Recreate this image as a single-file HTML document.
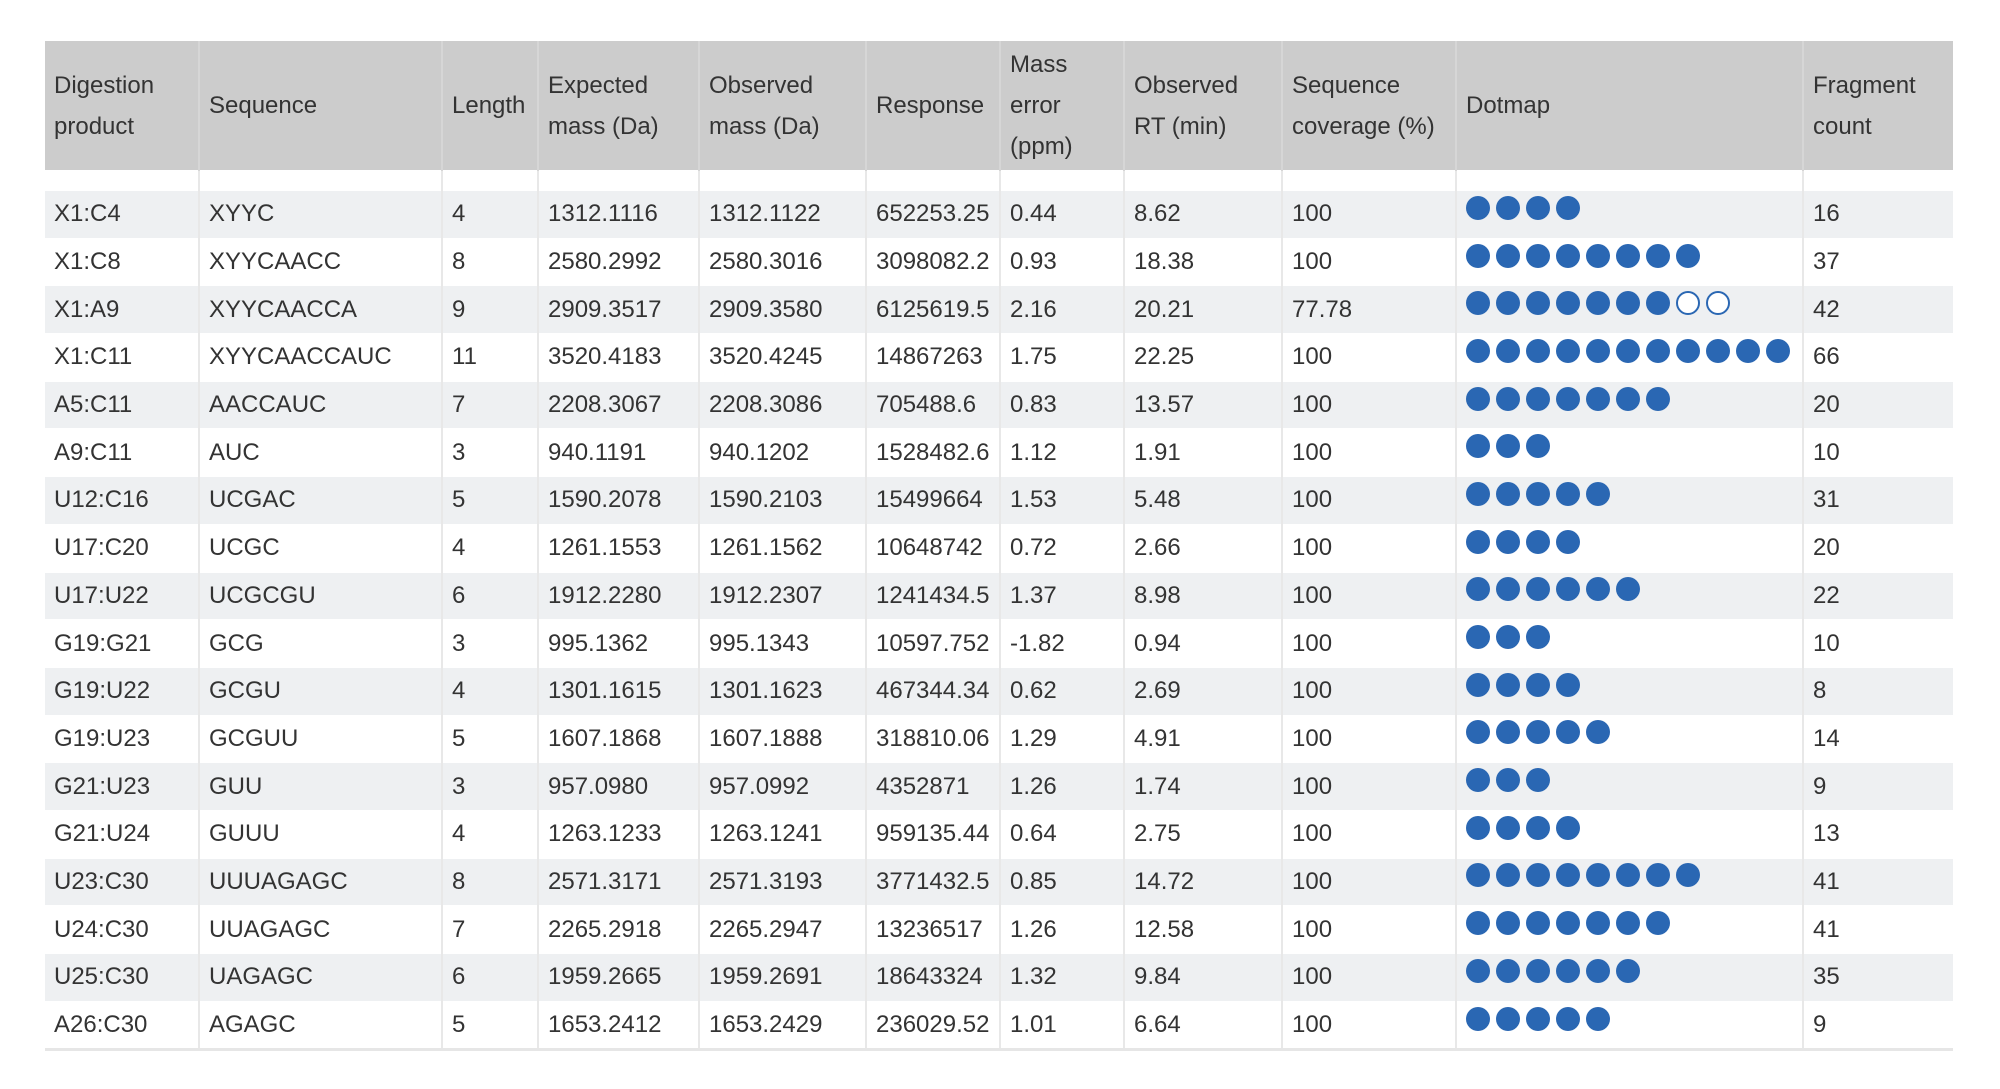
<!DOCTYPE html>
<html><head><meta charset="utf-8"><style>
body{margin:0;background:#fff;width:2000px;height:1089px;overflow:hidden;font-family:"Liberation Sans",sans-serif;color:#333;}
table{position:absolute;left:45px;top:41px;width:1908px;border-collapse:collapse;table-layout:fixed;font-size:24px;}
th{background:#cccccc;font-weight:normal;text-align:left;vertical-align:middle;padding:0 0 0 9px;height:129px;line-height:41px;border-left:2px solid #d6d6d6;color:#333;}
th:first-child{border-left:none}
td{padding:0 0 0 9px;height:46.7px;border-left:2px solid #e8e8e8;border-top:1px solid #fff;white-space:nowrap;}
td:first-child{border-left:none}
tr.g td{background:#eef0f2}
tr.sp td{height:19px;background:#fff}
tr.last td{border-bottom:3px solid #e6e6e6}
.d{display:inline-block;width:24px;height:24px;border-radius:50%;background:#2a67b3;margin-right:6px;vertical-align:-2px;position:relative;top:-4px}
.o{background:#fff;border:2px solid #2a67b3;width:20px;height:20px}
</style></head><body>
<table>
<colgroup><col style="width:154px"><col style="width:243px"><col style="width:96px"><col style="width:161px"><col style="width:167px"><col style="width:134px"><col style="width:124px"><col style="width:158px"><col style="width:174px"><col style="width:347px"><col style="width:150px"></colgroup>
<tr><th>Digestion<br>product</th><th>Sequence</th><th>Length</th><th>Expected<br>mass (Da)</th><th>Observed<br>mass (Da)</th><th>Response</th><th>Mass<br>error<br>(ppm)</th><th>Observed<br>RT (min)</th><th>Sequence<br>coverage (%)</th><th>Dotmap</th><th>Fragment<br>count</th></tr>
<tr class="sp"><td></td><td></td><td></td><td></td><td></td><td></td><td></td><td></td><td></td><td></td><td></td></tr>
<tr class="g"><td>X1:C4</td><td>XYYC</td><td>4</td><td>1312.1116</td><td>1312.1122</td><td>652253.25</td><td>0.44</td><td>8.62</td><td>100</td><td><i class="d"></i><i class="d"></i><i class="d"></i><i class="d"></i></td><td>16</td></tr>
<tr><td>X1:C8</td><td>XYYCAACC</td><td>8</td><td>2580.2992</td><td>2580.3016</td><td>3098082.2</td><td>0.93</td><td>18.38</td><td>100</td><td><i class="d"></i><i class="d"></i><i class="d"></i><i class="d"></i><i class="d"></i><i class="d"></i><i class="d"></i><i class="d"></i></td><td>37</td></tr>
<tr class="g"><td>X1:A9</td><td>XYYCAACCA</td><td>9</td><td>2909.3517</td><td>2909.3580</td><td>6125619.5</td><td>2.16</td><td>20.21</td><td>77.78</td><td><i class="d"></i><i class="d"></i><i class="d"></i><i class="d"></i><i class="d"></i><i class="d"></i><i class="d"></i><i class="d o"></i><i class="d o"></i></td><td>42</td></tr>
<tr><td>X1:C11</td><td>XYYCAACCAUC</td><td>11</td><td>3520.4183</td><td>3520.4245</td><td>14867263</td><td>1.75</td><td>22.25</td><td>100</td><td><i class="d"></i><i class="d"></i><i class="d"></i><i class="d"></i><i class="d"></i><i class="d"></i><i class="d"></i><i class="d"></i><i class="d"></i><i class="d"></i><i class="d"></i></td><td>66</td></tr>
<tr class="g"><td>A5:C11</td><td>AACCAUC</td><td>7</td><td>2208.3067</td><td>2208.3086</td><td>705488.6</td><td>0.83</td><td>13.57</td><td>100</td><td><i class="d"></i><i class="d"></i><i class="d"></i><i class="d"></i><i class="d"></i><i class="d"></i><i class="d"></i></td><td>20</td></tr>
<tr><td>A9:C11</td><td>AUC</td><td>3</td><td>940.1191</td><td>940.1202</td><td>1528482.6</td><td>1.12</td><td>1.91</td><td>100</td><td><i class="d"></i><i class="d"></i><i class="d"></i></td><td>10</td></tr>
<tr class="g"><td>U12:C16</td><td>UCGAC</td><td>5</td><td>1590.2078</td><td>1590.2103</td><td>15499664</td><td>1.53</td><td>5.48</td><td>100</td><td><i class="d"></i><i class="d"></i><i class="d"></i><i class="d"></i><i class="d"></i></td><td>31</td></tr>
<tr><td>U17:C20</td><td>UCGC</td><td>4</td><td>1261.1553</td><td>1261.1562</td><td>10648742</td><td>0.72</td><td>2.66</td><td>100</td><td><i class="d"></i><i class="d"></i><i class="d"></i><i class="d"></i></td><td>20</td></tr>
<tr class="g"><td>U17:U22</td><td>UCGCGU</td><td>6</td><td>1912.2280</td><td>1912.2307</td><td>1241434.5</td><td>1.37</td><td>8.98</td><td>100</td><td><i class="d"></i><i class="d"></i><i class="d"></i><i class="d"></i><i class="d"></i><i class="d"></i></td><td>22</td></tr>
<tr><td>G19:G21</td><td>GCG</td><td>3</td><td>995.1362</td><td>995.1343</td><td>10597.752</td><td>-1.82</td><td>0.94</td><td>100</td><td><i class="d"></i><i class="d"></i><i class="d"></i></td><td>10</td></tr>
<tr class="g"><td>G19:U22</td><td>GCGU</td><td>4</td><td>1301.1615</td><td>1301.1623</td><td>467344.34</td><td>0.62</td><td>2.69</td><td>100</td><td><i class="d"></i><i class="d"></i><i class="d"></i><i class="d"></i></td><td>8</td></tr>
<tr><td>G19:U23</td><td>GCGUU</td><td>5</td><td>1607.1868</td><td>1607.1888</td><td>318810.06</td><td>1.29</td><td>4.91</td><td>100</td><td><i class="d"></i><i class="d"></i><i class="d"></i><i class="d"></i><i class="d"></i></td><td>14</td></tr>
<tr class="g"><td>G21:U23</td><td>GUU</td><td>3</td><td>957.0980</td><td>957.0992</td><td>4352871</td><td>1.26</td><td>1.74</td><td>100</td><td><i class="d"></i><i class="d"></i><i class="d"></i></td><td>9</td></tr>
<tr><td>G21:U24</td><td>GUUU</td><td>4</td><td>1263.1233</td><td>1263.1241</td><td>959135.44</td><td>0.64</td><td>2.75</td><td>100</td><td><i class="d"></i><i class="d"></i><i class="d"></i><i class="d"></i></td><td>13</td></tr>
<tr class="g"><td>U23:C30</td><td>UUUAGAGC</td><td>8</td><td>2571.3171</td><td>2571.3193</td><td>3771432.5</td><td>0.85</td><td>14.72</td><td>100</td><td><i class="d"></i><i class="d"></i><i class="d"></i><i class="d"></i><i class="d"></i><i class="d"></i><i class="d"></i><i class="d"></i></td><td>41</td></tr>
<tr><td>U24:C30</td><td>UUAGAGC</td><td>7</td><td>2265.2918</td><td>2265.2947</td><td>13236517</td><td>1.26</td><td>12.58</td><td>100</td><td><i class="d"></i><i class="d"></i><i class="d"></i><i class="d"></i><i class="d"></i><i class="d"></i><i class="d"></i></td><td>41</td></tr>
<tr class="g"><td>U25:C30</td><td>UAGAGC</td><td>6</td><td>1959.2665</td><td>1959.2691</td><td>18643324</td><td>1.32</td><td>9.84</td><td>100</td><td><i class="d"></i><i class="d"></i><i class="d"></i><i class="d"></i><i class="d"></i><i class="d"></i></td><td>35</td></tr>
<tr class="last"><td>A26:C30</td><td>AGAGC</td><td>5</td><td>1653.2412</td><td>1653.2429</td><td>236029.52</td><td>1.01</td><td>6.64</td><td>100</td><td><i class="d"></i><i class="d"></i><i class="d"></i><i class="d"></i><i class="d"></i></td><td>9</td></tr>
</table>
</body></html>
